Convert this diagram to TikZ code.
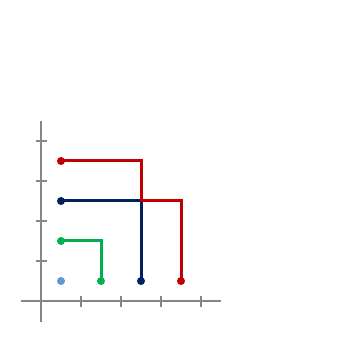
\documentclass[tikz,border=0pt]{standalone}
\usetikzlibrary{calc}
\definecolor{cred}{HTML}{C00000}
\definecolor{cnavy}{HTML}{002060}
\definecolor{cgreen}{HTML}{00B050}
\definecolor{cblue}{HTML}{5B9BD5}
\definecolor{caxis}{HTML}{868686}
\tikzset{
  axisline/.style={draw=caxis, line width=1.5pt},
  tickline/.style={draw=caxis, line width=1.2pt},
  connline/.style={line width=3pt},
  dot/.style={circle, fill=#1, inner sep=0pt, minimum size=8pt},
}
\begin{document}
\begin{tikzpicture}[x=40pt,y=40pt]
\useasboundingbox (-1.025,-1.025) rectangle (7.5,7.525);
% axes
\coordinate (yb) at (0,-0.525);
\coordinate (yt) at (0,4.5);
\coordinate (xl) at (-0.5,0);
\coordinate (xr) at (4.5,0);
\draw[axisline] (yb) -- (yt);
\draw[axisline] (xl) -- (xr);
\foreach \i in {1,2,3,4}{
  \draw[tickline] (-0.13,\i) -- (0.15,\i);
  \draw[tickline] (\i,-0.15) -- (\i,0.13);
}
% points
\node[dot=cblue] (b0) at (0.5,0.5) {};
\node[dot=cgreen] (g1) at (0.5,1.5) {};
\node[dot=cgreen] (g2) at (1.5,0.5) {};
\node[dot=cnavy] (n1) at (0.5,2.5) {};
\node[dot=cnavy] (n2) at (2.5,0.5) {};
\node[dot=cred] (r1) at (0.5,3.5) {};
\node[dot=cred] (r2) at (3.5,0.5) {};
% paths
\draw[connline, cgreen] (g1.center) -| (g2.center);
\draw[connline, cnavy] (n1.center) -| (n2.center);
\draw[connline, cred] (r1.center) -- (2.5,3.5) -- (2.5,2.5) -| (r2.center);
\end{tikzpicture}
\end{document}
